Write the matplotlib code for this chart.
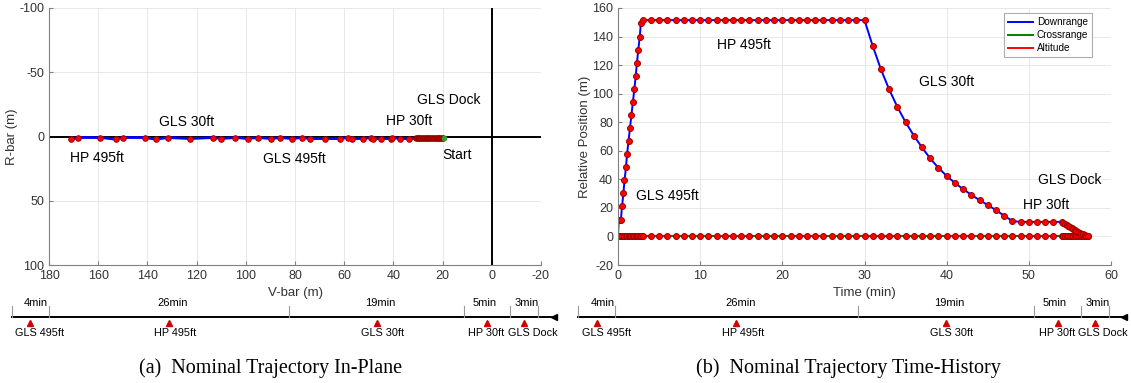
import numpy as np
import matplotlib
matplotlib.use('Agg')
from matplotlib import pyplot as plt

plt.rcParams['font.family'] = ['Liberation Sans', 'DejaVu Sans']
plt.rcParams['axes.unicode_minus'] = False

# ---- in-plane trajectory (V-bar / R-bar, m) ----
vbar_pts = [171.0, 168.4, 159.1, 152.7, 150.1, 141.0, 136.6, 131.7, 122.5, 113.4,
            110.0, 104.2, 99.3, 95.2, 89.7, 86.0, 81.3, 77.0, 74.1, 67.7,
            61.9, 58.5, 56.8, 52.3, 49.1, 48.4, 44.9, 41.1, 40.4, 37.5,
            33.8, 31.0, 30.2, 29.5, 28.8, 28.0, 27.3, 26.5, 25.8, 25.0,
            24.3, 23.5, 22.8, 22.0, 21.3, 20.5, 20.0]
rbar_pts = [2.1, 0.8, 0.8, 2.1, 0.8, 0.8, 2.1, 0.8, 1.6, 0.8,
            1.6, 0.8, 1.6, 0.8, 1.6, 0.8, 1.6, 0.8, 1.6, 1.6,
            1.6, 0.8, 1.6, 1.6, 0.8, 1.6, 1.6, 1.6, 0.8, 1.6,
            1.6, 1.3, 1.3, 1.3, 1.3, 1.3, 1.3, 1.3, 1.3, 1.3,
            1.3, 1.3, 1.3, 1.3, 1.3, 1.3, 1.3]
start_pt = (19.5, 1.3)
inplane_labels = [('GLS Dock', 17.4, -28.5), ('HP 30ft', 33.6, -11.7),
                  ('GLS 30ft', 124.1, -10.9), ('HP 495ft', 160.4, 16.8),
                  ('GLS 495ft', 80.3, 17.4), ('Start', 14.2, 14.2)]

# ---- time history (min, m) ----
t_min = ([0, 0.09, 0.35, 0.49, 0.66, 0.79, 0.97, 1.10, 1.28, 1.46, 1.63, 1.81,
          1.99, 2.16, 2.30, 2.47, 2.65, 2.78, 3.0]
         + [4, 5, 6, 7, 8, 9, 10, 11, 12, 13, 14, 15, 16, 17, 18, 19, 20, 21, 22,
            23, 24, 25, 26, 27, 28, 29, 30]
         + [31, 32, 33, 34, 35, 36, 37, 38, 39, 40, 41, 42, 43, 44, 45, 46, 47,
            48, 49, 50, 51, 52, 53]
         + [54.0, 54.2, 54.4, 54.6, 54.8, 55.0, 55.2, 55.4, 55.6, 55.8, 56.0,
            56.2, 56.4, 56.6, 56.8, 57.0, 57.2])
downrange = ([0, 11.7, 11.7, 21.0, 30.3, 39.2, 48.3, 57.6, 66.7, 76.0, 84.9, 94.0,
              103.1, 112.4, 121.5, 130.8, 139.9, 149.3, 151.5]
             + [151.5] * 27
             + [133.4, 117.0, 103.0, 90.7, 80.0, 70.7, 62.3, 54.6, 48.0, 42.4,
                37.5, 33.1, 29.2, 25.4, 22.0, 18.4, 14.5, 10.8, 10.2, 10.2,
                10.2, 10.2, 10.2]
             + [10.2, 9.4, 8.7, 8.0, 7.3, 6.6, 5.9, 5.2, 4.6, 3.9, 3.2,
                2.6, 2.0, 1.4, 0.8, 0.3, 0.0])
crossrange = np.zeros(len(t_min))
altitude = np.zeros(len(t_min))
history_labels = [('HP 495ft', 15.3, 134.1), ('GLS 30ft', 40.0, 108.5),
                  ('GLS 495ft', 6.0, 28.0), ('GLS Dock', 55.0, 39.7),
                  ('HP 30ft', 52.1, 22.2)]

# ---- phase timeline ----
seg_minutes = [4, 26, 19, 5, 3]
seg_labels = ['4min', '26min', '19min', '5min', '3min']
event_names = ['GLS 495ft', 'HP 495ft', 'GLS 30ft', 'HP 30ft', 'GLS Dock']

W, H = 1131, 383
fig = plt.figure(figsize=(W / 100, H / 100), dpi=100)

SPINE = '#808080'
TXT = '#333333'


def dots(ms, face='red', edge='#a00000'):
    return dict(marker='o', ms=ms, mfc=face, mec=edge, mew=0.7, ls='none')


def px_axes(x0, y0, x1, y1):
    return fig.add_axes([x0 / W, 1 - y1 / H, (x1 - x0) / W, (y1 - y0) / H])


def style_axes(ax):
    for s in ['top', 'right']:
        ax.spines[s].set_visible(False)
    for s in ['left', 'bottom']:
        ax.spines[s].set_color(SPINE)
    ax.tick_params(direction='in', colors=TXT, labelsize=9, length=3, color=SPINE)
    ax.grid(True, color='#e4e4e4', lw=0.6)
    ax.set_axisbelow(True)


# in-plane
ax1 = px_axes(49, 8, 541, 265)
style_axes(ax1)
ax1.axhline(0, color='black', lw=1.4)
ax1.axvline(0, color='black', lw=1.4)
ax1.plot(vbar_pts, rbar_pts, color='blue', lw=2.0)
ax1.plot(vbar_pts[:31], rbar_pts[:31], **dots(4.0))
ax1.plot(vbar_pts[31:], rbar_pts[31:], **dots(4.0, '#c00000', '#8b0000'))
ax1.plot(*start_pt, marker='o', ms=3, color='#2ca02c', ls='none')
ax1.set_xlim(180, -20)
ax1.set_ylim(100, -100)
ax1.set_xticks(np.arange(180, -21, -20))
ax1.set_yticks([-100, -50, 0, 50, 100])
ax1.set_xlabel('V-bar (m)', fontsize=9.5, color=TXT, labelpad=4)
ax1.set_ylabel('R-bar (m)', fontsize=9.5, color=TXT, labelpad=1)
for txt, x, y in inplane_labels:
    ax1.text(x, y, txt, fontsize=10, ha='center', va='center', color='black')

# time history
ax2 = px_axes(618, 8, 1111, 265)
style_axes(ax2)
l_alt, = ax2.plot(t_min, altitude, color='red', lw=1.4, label='Altitude')
l_cr, = ax2.plot(t_min, crossrange, color='green', lw=1.4, label='Crossrange')
l_dr, = ax2.plot(t_min, downrange, color='blue', lw=1.4, label='Downrange')
ax2.plot(t_min, altitude, **dots(4.3))
ax2.plot(t_min, downrange, **dots(4.3))
ax2.set_xlim(0, 60)
ax2.set_ylim(-20, 160)
ax2.set_xticks(np.arange(0, 61, 10))
ax2.set_yticks(np.arange(-20, 161, 20))
ax2.set_xlabel('Time (min)', fontsize=9.5, color=TXT, labelpad=4)
ax2.set_ylabel('Relative Position (m)', fontsize=9.5, color=TXT, labelpad=1)
for txt, x, y in history_labels:
    ax2.text(x, y, txt, fontsize=10, ha='center', va='center', color='black')
leg = ax2.legend(handles=[l_dr, l_cr, l_alt], loc='upper right', fontsize=7.2,
                 frameon=True, fancybox=False, edgecolor='#999999',
                 handlelength=2.5, handletextpad=0.4, borderpad=0.4,
                 labelspacing=0.3, borderaxespad=0,
                 bbox_to_anchor=(0.962, 0.98))
leg.get_frame().set_linewidth(0.8)

# timelines
dur_shift = [0.6, 0.4, 0.4, -0.3, 0.3]
name_shift = [1.0, 0.7, 0.6, -0.1, 0.9]


def timeline(x_px0, x_px1, zero_px, px_per_min):
    ax = px_axes(x_px0, 296, x_px1, 346)
    ax.set_xlim((x_px0 - zero_px) / px_per_min, (x_px1 - zero_px) / px_per_min)
    ax.set_ylim(0, 1)
    ax.axis('off')
    bounds = np.concatenate([[0], np.cumsum(seg_minutes)])
    mids = (bounds[:-1] + bounds[1:]) / 2
    end = bounds[-1] + 1.67
    ax.plot([0, end], [0.586, 0.586], color='black', lw=1.4)
    ax.plot(end, 0.586, marker='<', ms=4, color='black')
    for b in bounds:
        ax.plot([b, b], [0.586, 0.8], color='#999999', lw=0.8)
    ax.plot(mids, [0.47] * len(mids), marker='^', ms=4.5, color='#d40000', ls='none')
    for m, d, lab in zip(mids, dur_shift, seg_labels):
        ax.text(m + d, 0.86, lab, fontsize=8, ha='center', va='center', color='black')
    for m, d, lab in zip(mids, name_shift, event_names):
        ax.text(m + d, 0.25, lab, fontsize=7.8, ha='center', va='center', color='black')


timeline(5, 560, 11.8, 9.235)
timeline(572, 1128, 578.2, 9.31)

fig.text(271 / W, 1 - 368 / H, '(a)  Nominal Trajectory In-Plane', fontsize=14.5,
         family='Liberation Serif', ha='center', va='center')
fig.text(848 / W, 1 - 368 / H, '(b)  Nominal Trajectory Time-History', fontsize=14.5,
         family='Liberation Serif', ha='center', va='center')

fig.savefig('out.png', dpi=100)
